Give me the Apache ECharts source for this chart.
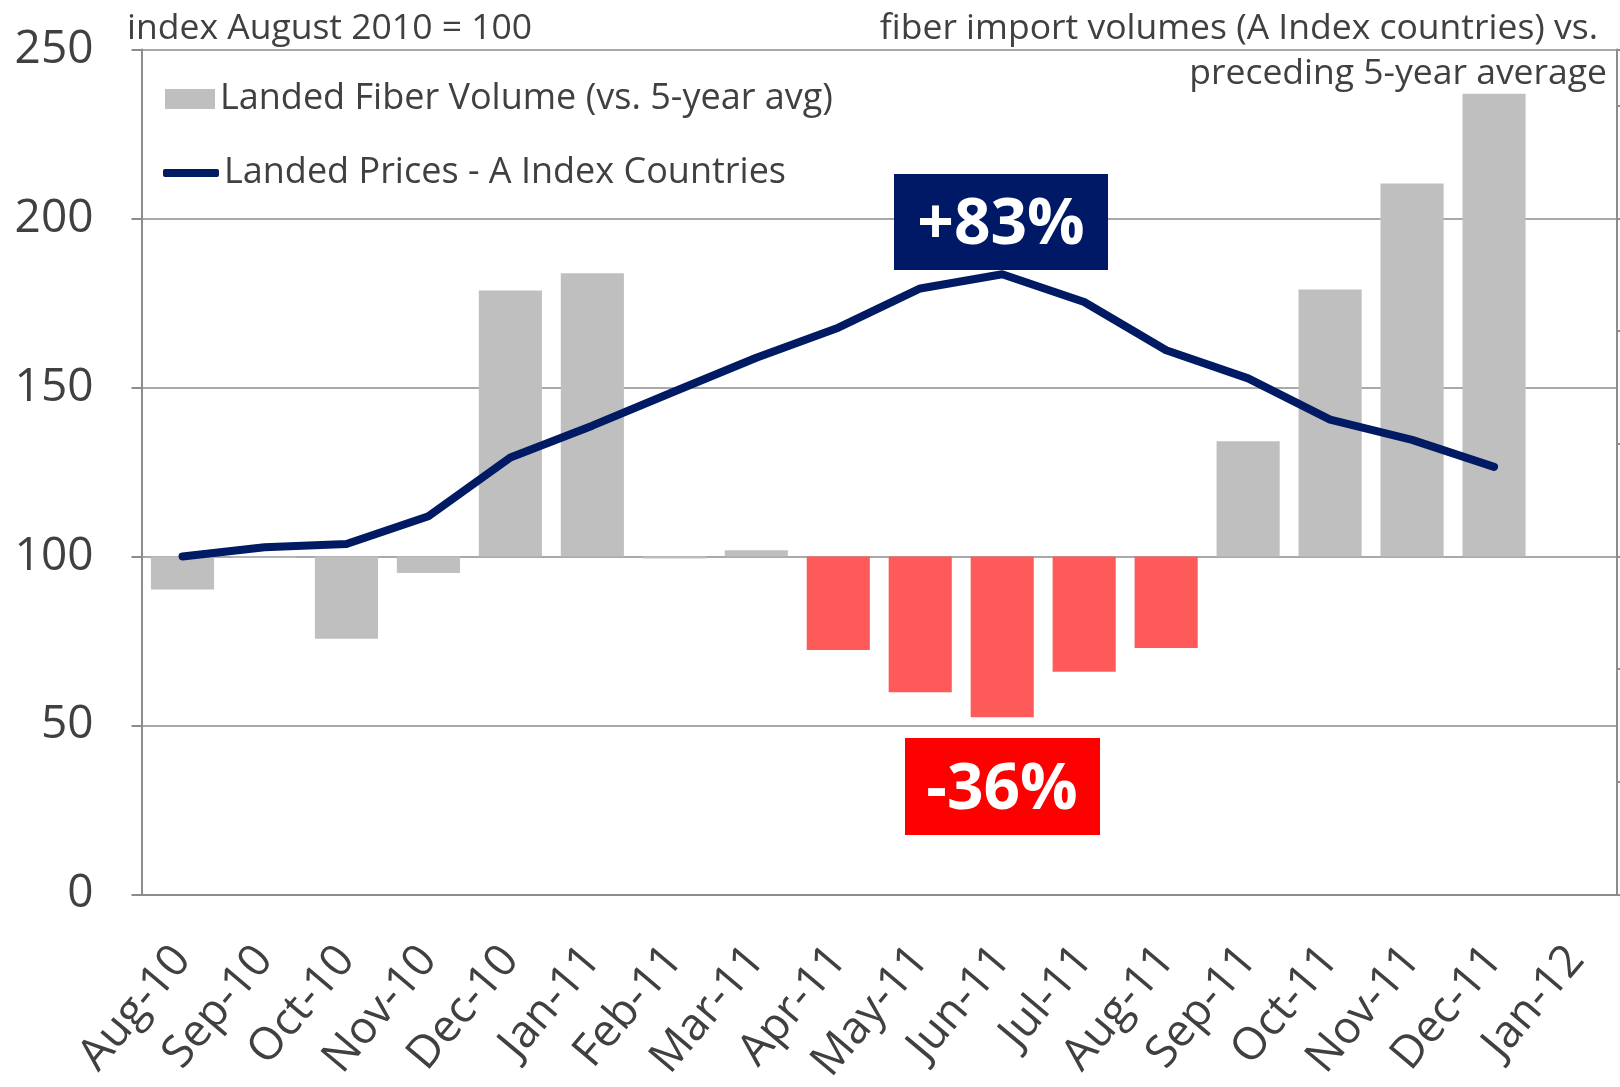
<!DOCTYPE html>
<html>
<head>
<meta charset="utf-8">
<script src="https://cdn.jsdelivr.net/npm/echarts@6/dist/echarts.min.js"></script>
<style>
  html, body { margin: 0; padding: 0; background: #fff; }
  #main { width: 1620px; height: 1087px; }
</style>
</head>
<body>
<div id="main"></div>
<script>
var categories = ['Aug-10', 'Sep-10', 'Oct-10', 'Nov-10', 'Dec-10', 'Jan-11', 'Feb-11', 'Mar-11', 'Apr-11',
  'May-11', 'Jun-11', 'Jul-11', 'Aug-11', 'Sep-11', 'Oct-11', 'Nov-11', 'Dec-11', 'Jan-12'];
// fiber import volume index vs preceding 5-year average
var volume = [90.2, 99.6, 75.6, 95.1, 178.7, 183.8, 99.4, 101.8, 72.3, 59.8, 52.4, 65.9, 72.9, 134.1, 179.0, 210.4, 236.9, null];
// landed prices, A Index countries (Aug 2010 = 100)
var prices = [100, 102.7, 103.7, 111.9, 129.3, 138.7, 148.8, 158.8, 167.7, 179.3, 183.5, 175.3, 161.0, 152.7, 140.5, 134.5, 126.5, null];
var shortfallMonths = ['Apr-11', 'May-11', 'Jun-11', 'Jul-11', 'Aug-11'];
var yTicks = [0, 50, 100, 150, 200, 250];

var FONT = '"Open Sans", "Noto Sans", sans-serif';
var TXT = '#404040';
var AXIS = '#8c8c8c';
var NAVY = '#001a64';

var myChart = echarts.init(document.getElementById('main'));

// bars float from the 100 line: invisible base + visible difference
var baseData = volume.map(function (v) { return v == null ? null : Math.min(v, 100); });
var diffData = volume.map(function (v, i) {
  if (v == null) return null;
  var red = shortfallMonths.indexOf(categories[i]) >= 0;
  return { value: Math.abs(v - 100), itemStyle: { color: red ? '#ff5a5a' : '#bfbfbf' } };
});

var titleText = { fontFamily: FONT, fontSize: 35.5, fontWeight: 'normal', color: TXT, lineHeight: 42 };

var option = {
  animation: false,
  textStyle: { fontFamily: FONT },
  title: [
    { text: 'index August 2010 = 100', left: 122, top: 3, textStyle: titleText },
    { text: 'fiber import volumes (A Index countries) vs.', right: 17, top: 3, textStyle: titleText },
    { text: 'preceding 5-year average', right: 8, top: 48, textStyle: titleText }
  ],
  legend: [
    { data: ['Landed Fiber Volume (vs. 5-year avg)'], left: 160, top: 74, itemWidth: 50, itemHeight: 20,
      icon: 'rect', textStyle: { fontFamily: FONT, fontSize: 36, color: TXT, lineHeight: 40 } },
    { data: ['Landed Prices - A Index Countries'], left: 158, top: 148, itemWidth: 56, itemHeight: 8,
      icon: 'roundRect', textStyle: { fontFamily: FONT, fontSize: 36, color: TXT, lineHeight: 40 } }
  ],
  grid: { left: 141.5, right: 3, top: 49.6, bottom: 190, containLabel: false },
  xAxis: {
    type: 'category',
    data: categories,
    axisLine: { lineStyle: { color: AXIS, width: 2 } },
    axisTick: { length: 17, lineStyle: { color: AXIS, width: 2 } },
    axisLabel: { rotate: 50, margin: 58, fontFamily: FONT, fontSize: 45, color: TXT, interval: 0 }
  },
  yAxis: [
    {
      type: 'value', min: yTicks[0], max: yTicks[yTicks.length - 1], interval: 50,
      axisLine: { show: true, lineStyle: { color: AXIS, width: 2 } },
      axisTick: { show: true, length: 10, lineStyle: { color: AXIS, width: 2 } },
      axisLabel: { margin: 48, fontFamily: FONT, fontSize: 46, color: TXT },
      splitLine: { lineStyle: { color: AXIS, width: 1.5 } }
    },
    {
      type: 'value', position: 'right', min: 0, max: 7.5, interval: 1,
      axisLine: { show: true, lineStyle: { color: AXIS, width: 2 } },
      axisTick: { show: true, length: 6, lineStyle: { color: AXIS, width: 2 } },
      axisLabel: { show: false },
      splitLine: { show: false }
    }
  ],
  series: [
    { name: 'base', type: 'bar', stack: 'vol', data: baseData, barCategoryGap: '23%',
      itemStyle: { color: 'rgba(0,0,0,0)' }, silent: true },
    { name: 'Landed Fiber Volume (vs. 5-year avg)', type: 'bar', stack: 'vol', data: diffData,
      barCategoryGap: '23%', itemStyle: { color: '#bfbfbf' } },
    { name: 'Landed Prices - A Index Countries', type: 'line', data: prices, symbol: 'none', z: 5,
      itemStyle: { color: NAVY },
      lineStyle: { color: NAVY, width: 8, cap: 'round', join: 'round' } }
  ],
  graphic: [
    { type: 'rect', z: 100, shape: { x: 894, y: 174, width: 214, height: 96 }, style: { fill: '#001966' } },
    { type: 'text', z: 101, style: { x: 1001, y: 226, text: '+83%', fill: '#fff', font: 'bold 64px ' + FONT,
      textAlign: 'center', textVerticalAlign: 'middle' } },
    { type: 'rect', z: 100, shape: { x: 905, y: 738, width: 195, height: 97 }, style: { fill: '#ff0000' } },
    { type: 'text', z: 101, style: { x: 1002, y: 791, text: '-36%', fill: '#fff', font: 'bold 64px ' + FONT,
      textAlign: 'center', textVerticalAlign: 'middle' } }
  ]
};

myChart.setOption(option);
</script>
</body>
</html>
